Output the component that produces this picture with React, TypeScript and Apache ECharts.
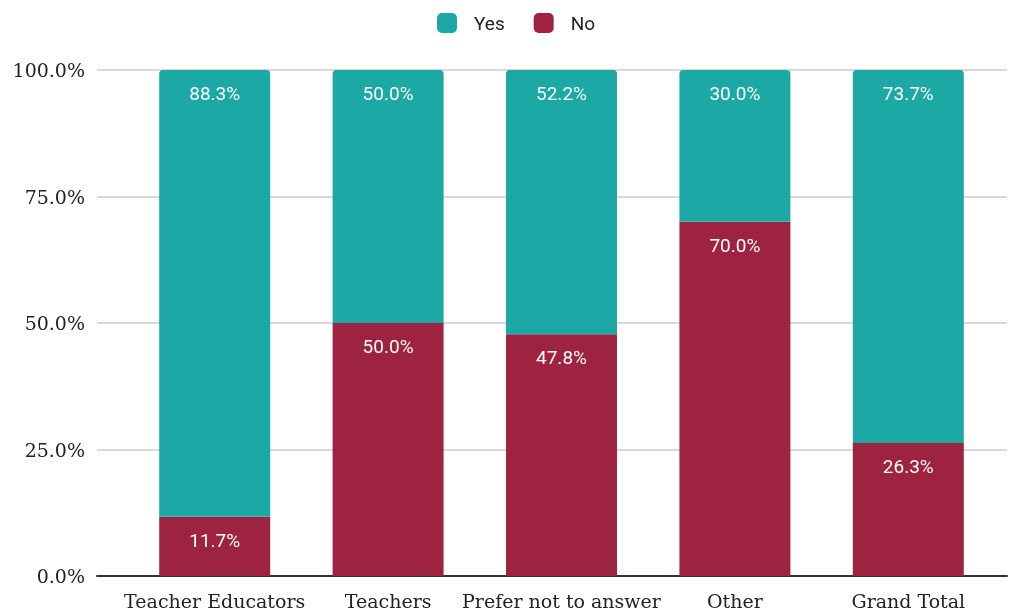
import React, { useEffect, useRef } from "react";
import * as echarts from "echarts";

const categories = ["Teacher Educators", "Teachers", "Prefer not to answer", "Other", "Grand Total"];
const yesValues = [88.3, 50.0, 52.2, 30.0, 73.7];
const noValues = [11.7, 50.0, 47.8, 70.0, 26.3];
const yTicks = [0, 25, 50, 75, 100];

const TEAL = "#1ca8a4";
const CRIMSON = "#9e2340";
const SERIF = "DejaVu Serif";

export default function App() {
  const ref = useRef<HTMLDivElement>(null);
  useEffect(() => {
    if (!ref.current) return;
    const chart = echarts.init(ref.current, undefined, { renderer: "svg" });
    const label = {
      show: true,
      position: "insideTop" as const,
      distance: 14,
      color: "#ffffff",
      fontFamily: "Roboto",
      fontSize: 19,
      formatter: (p: any) => p.value.toFixed(1) + "%",
    };
    chart.setOption({
      animation: false,
      legend: {
        top: 8,
        left: 432,
        itemWidth: 20,
        itemHeight: 20,
        itemGap: 29,
        icon: "roundRect",
        textStyle: { fontFamily: "Roboto", fontSize: 19, color: "#222", padding: [0, 0, 0, 12] },
        data: ["Yes", "No"],
      },
      grid: [
        { left: 97, right: 4, top: 70, bottom: 36 },
        { left: 128, right: 16, top: 70, bottom: 36 },
      ],
      xAxis: [
        {
          gridIndex: 0,
          type: "value",
          min: 0,
          max: 1,
          axisLine: { show: true, lineStyle: { color: "#333", width: 2 } },
          axisTick: { show: false },
          axisLabel: { show: false },
          splitLine: { show: false },
        },
        {
          gridIndex: 1,
          type: "category",
          data: categories,
          axisLine: { show: false },
          axisTick: { show: false },
          axisLabel: { interval: 0, fontFamily: SERIF, fontSize: 19, color: "#222", margin: 15 },
        },
      ],
      yAxis: [
        {
          gridIndex: 0,
          type: "value",
          min: 0,
          max: 100,
          interval: 25,
          axisLine: { show: false },
          axisTick: { show: false },
          axisLabel: {
            fontFamily: SERIF,
            fontSize: 19,
            color: "#222",
            margin: 12,
            formatter: (v: number) => (yTicks.includes(v) ? v.toFixed(1) + "%" : ""),
          },
          splitLine: { show: true, lineStyle: { color: "#cccccc", width: 1.5 } },
        },
        {
          gridIndex: 1,
          type: "value",
          min: 0,
          max: 100,
          interval: 25,
          show: false,
          splitLine: { show: false },
        },
      ],
      series: [
        {
          name: "No",
          type: "bar",
          stack: "total",
          xAxisIndex: 1,
          yAxisIndex: 1,
          barWidth: "64%",
          data: noValues,
          itemStyle: { color: CRIMSON },
          label,
        },
        {
          name: "Yes",
          type: "bar",
          stack: "total",
          xAxisIndex: 1,
          yAxisIndex: 1,
          barWidth: "64%",
          data: yesValues,
          itemStyle: { color: TEAL, borderRadius: [4, 4, 0, 0] },
          label,
        },
      ],
    });
    return () => chart.dispose();
  }, []);
  return <div ref={ref} style={{ position: "fixed", left: 0, top: 0, width: 1011, height: 612 }} />;
}
